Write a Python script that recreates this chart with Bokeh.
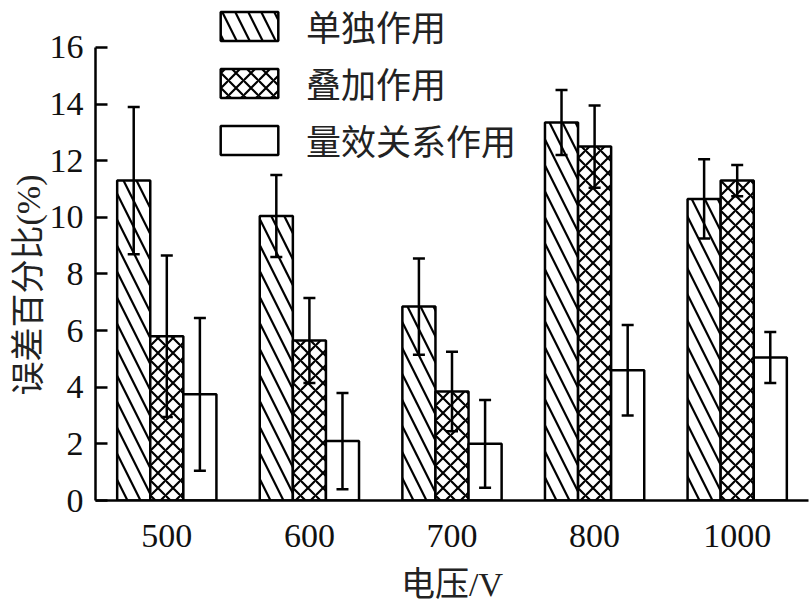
from bokeh.plotting import figure
from bokeh.models import FactorRange, Range1d, Whisker, TeeHead, ColumnDataSource, Legend, LegendItem, Title
from bokeh.transform import dodge
from bokeh.embed import file_html
from bokeh.resources import INLINE

voltages = ["500", "600", "700", "800", "1000"]
single = [11.3, 10.05, 6.85, 13.35, 10.65]
single_err = [2.6, 1.45, 1.7, 1.15, 1.4]
superposed = [5.8, 5.65, 3.85, 12.5, 11.3]
superposed_err = [2.85, 1.5, 1.4, 1.45, 0.55]
dose = [3.75, 2.1, 2.0, 4.6, 5.05]
dose_err = [2.7, 1.7, 1.55, 1.6, 0.9]
series_names = ["单独作用", "叠加作用", "量效关系作用"]
y_ticks = [0, 2, 4, 6, 8, 10, 12, 14, 16]

SERIF_CJK = "'Liberation Serif', 'Noto Sans CJK SC'"
CJK = "'Noto Sans CJK SC'"

p = figure(width=810, height=610, x_range=FactorRange(*voltages, range_padding=0),
           y_range=Range1d(0, 17.66), output_backend="svg", toolbar_location=None,
           min_border_left=95, min_border_right=2, min_border_top=0, min_border_bottom=110)
p.outline_line_color = None
p.xgrid.grid_line_color = None
p.ygrid.grid_line_color = None
p.background_fill_color = "white"
p.border_fill_color = "white"

offsets = [-0.232, 0.0, 0.232]
bar_w = 0.232
hatches = ["left_diagonal_line", "diagonal_cross", None]
hatch_scales = [26, 15, 12]
all_vals = [single, superposed, dose]
all_errs = [single_err, superposed_err, dose_err]

items = []
for vals, errs, off, hatch, hs, name in zip(all_vals, all_errs, offsets, hatches, hatch_scales, series_names):
    src = ColumnDataSource(dict(
        x=voltages, top=vals,
        upper=[v + e for v, e in zip(vals, errs)],
        lower=[v - e for v, e in zip(vals, errs)],
    ))
    kw = dict(x=dodge("x", off, range=p.x_range), top="top", width=bar_w, source=src,
              fill_color="white", line_color="black", line_width=2.5)
    if hatch:
        kw.update(hatch_pattern=hatch, hatch_color="black", hatch_weight=2.2,
                  hatch_scale=hs)
    r = p.vbar(**kw)
    items.append(LegendItem(label=name, renderers=[r]))
    w = Whisker(base=dodge("x", off, range=p.x_range), upper="upper", lower="lower",
                source=src, line_color="black", line_width=2.5,
                upper_head=TeeHead(size=12, line_width=2.5, line_color="black"),
                lower_head=TeeHead(size=12, line_width=2.5, line_color="black"))
    w.level = "overlay"
    p.add_layout(w)

legend = Legend(items=items, location=(118, 335), glyph_width=72, glyph_height=36,
                label_height=36, label_standoff=21, spacing=6, padding=0, margin=0,
                border_line_color=None, background_fill_alpha=0,
                label_text_font=CJK, label_text_font_size="35px",
                label_text_color="#222222")
p.add_layout(legend)

yax = p.yaxis[0]
yax.ticker = y_ticks
yax.bounds = (0, 16)
yax.major_tick_in = 12
yax.major_tick_out = 0
yax.minor_tick_line_color = None
yax.axis_line_width = 2.5
yax.major_tick_line_width = 2.5
yax.major_label_standoff = 12
yax.major_label_text_font = "Liberation Serif"
yax.major_label_text_font_size = "34px"
yax.major_label_text_color = "#111111"

ytitle = Title(text="误差百分比(%)", align="left", offset=105, text_font=SERIF_CJK,
               text_font_size="34px", text_font_style="normal", text_color="#222222",
               standoff=0)
p.add_layout(ytitle, "left")

xax = p.xaxis[0]
xax.major_tick_line_color = None
xax.minor_tick_line_color = None
xax.axis_line_width = 2.5
xax.major_label_standoff = 18
xax.major_label_text_font = "Liberation Serif"
xax.major_label_text_font_size = "34px"
xax.major_label_text_color = "#111111"
xax.axis_label = "电压/V"
xax.axis_label_text_font = SERIF_CJK
xax.axis_label_text_font_size = "34px"
xax.axis_label_text_font_style = "normal"
xax.axis_label_text_color = "#222222"
xax.axis_label_standoff = 16

open("out.html", "w").write(file_html(p, INLINE))
